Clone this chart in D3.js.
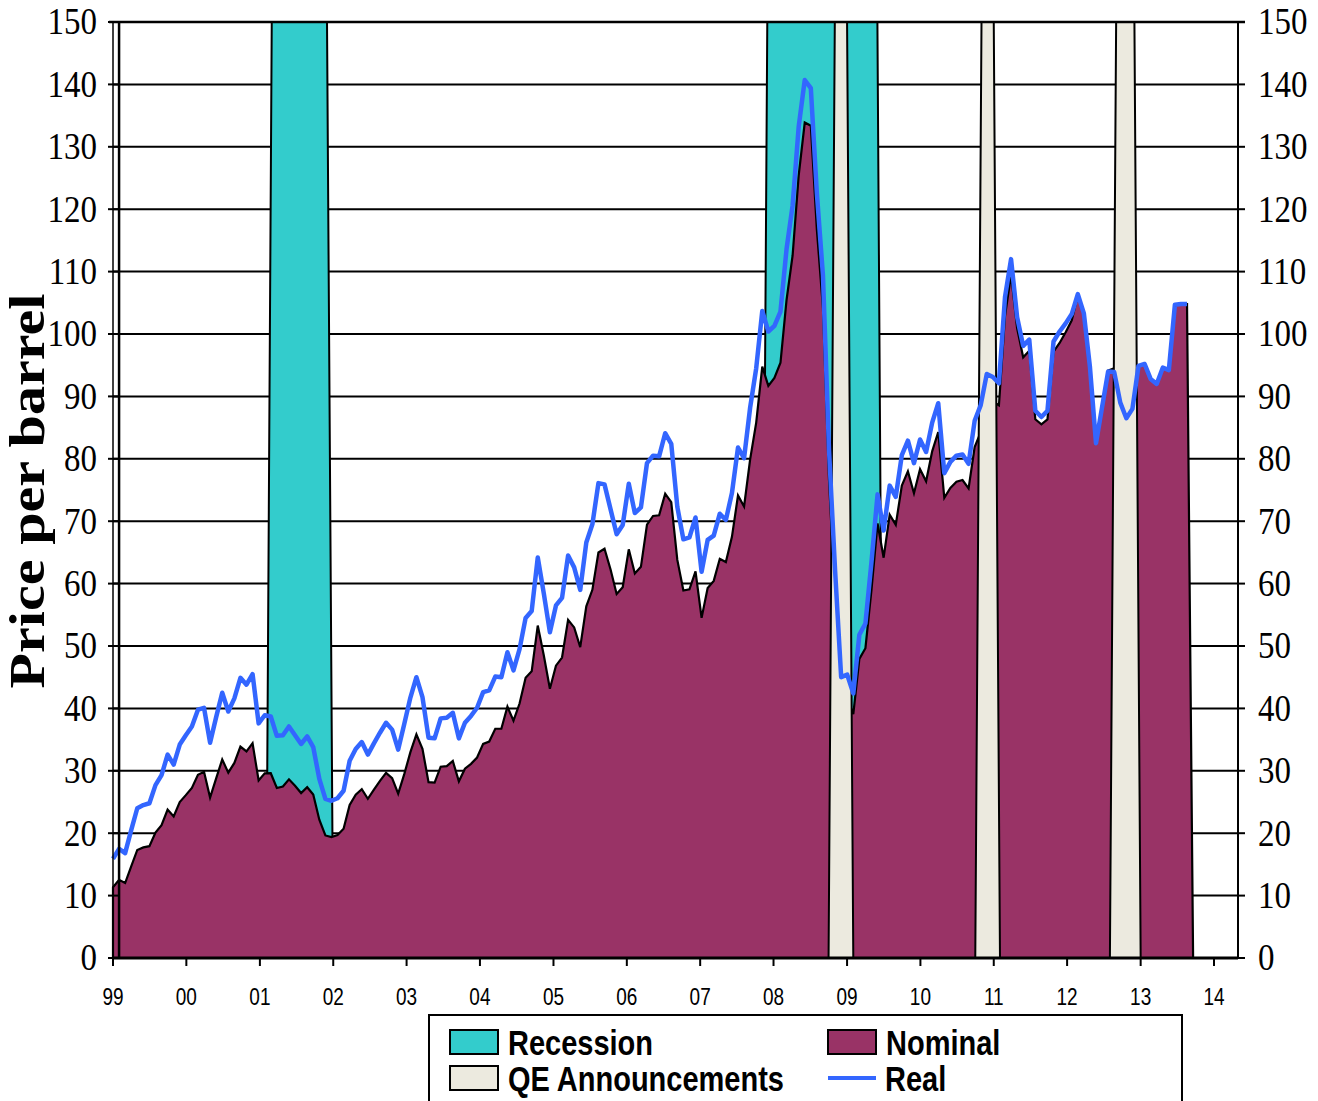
<!DOCTYPE html>
<html>
<head>
<meta charset="utf-8">
<script src="https://cdn.jsdelivr.net/npm/d3@7"></script>
<style>
  html, body { margin: 0; padding: 0; background: #fff; }
  svg { display: block; }
</style>
</head>
<body>
<svg id="chart" width="1318" height="1101"></svg>
<script>
// Monthly average crude oil price, $ per barrel, Dec 1998 onward.
// The final month has no reading yet and is carried as zero by the area.
const nominal = [
  11.35,
  12.52, 12.01, 14.68, 17.31, 17.72, 17.92, 20.10, 21.28, 23.80, 22.69, 25.00, 26.10,
  27.26, 29.37, 29.84, 25.72, 28.79, 31.82, 29.70, 31.26, 33.88, 33.11, 34.42, 28.44,
  29.59, 29.61, 27.25, 27.49, 28.63, 27.60, 26.43, 27.37, 26.20, 22.17, 19.64, 19.39,
  19.72, 20.72, 24.53, 26.18, 27.04, 25.52, 26.97, 28.39, 29.66, 28.84, 26.35, 29.46,
  32.95, 35.83, 33.51, 28.17, 28.11, 30.66, 30.75, 31.57, 28.31, 30.34, 31.11, 32.13,
  34.31, 34.69, 36.74, 36.75, 40.28, 38.03, 40.78, 44.90, 45.94, 53.28, 48.47, 43.15,
  46.84, 48.15, 54.19, 52.98, 49.83, 56.35, 59.00, 64.99, 65.59, 62.26, 58.32, 59.41,
  65.49, 61.63, 62.69, 69.44, 70.84, 70.95, 74.41, 73.04, 63.80, 58.89, 59.08, 61.96,
  54.51, 59.28, 60.44, 63.98, 63.46, 67.49, 74.12, 72.36, 79.92, 85.80, 94.77, 91.69,
  92.97, 95.39, 105.45, 112.58, 125.40, 133.88, 133.37, 116.67, 104.11, 76.61, 57.31, 41.12,
  41.71, 39.09, 47.94, 49.65, 59.03, 69.64, 64.15, 71.05, 69.41, 75.72, 77.99, 74.47,
  78.33, 76.39, 81.20, 84.29, 73.74, 75.34, 76.32, 76.60, 75.24, 81.89, 84.25, 89.15,
  89.17, 88.58, 102.86, 109.53, 100.90, 96.26, 97.30, 86.33, 85.52, 86.32, 97.16, 98.56,
  100.27, 102.20, 106.16, 103.32, 94.66, 82.30, 87.90, 94.13, 94.51, 89.49, 86.53, 87.86,
  94.76, 95.31, 92.94, 92.02, 94.51, 94.50, 104.6, 104.8, 104.8, 0
];

// Same series in constant dollars.
const real = [
  15.9,
  17.5, 16.8, 20.5, 24.0, 24.5, 24.8, 27.7, 29.3, 32.6, 31.0, 34.2, 35.7,
  37.1, 39.8, 40.1, 34.5, 38.6, 42.5, 39.5, 41.6, 44.9, 43.8, 45.5, 37.6,
  38.9, 38.7, 35.6, 35.7, 37.1, 35.7, 34.3, 35.5, 33.8, 28.7, 25.5, 25.2,
  25.6, 26.8, 31.6, 33.5, 34.6, 32.6, 34.4, 36.1, 37.7, 36.6, 33.4, 37.5,
  41.7, 45.0, 41.8, 35.3, 35.2, 38.4, 38.5, 39.3, 35.2, 37.7, 38.8, 40.1,
  42.6, 42.9, 45.1, 45.0, 49.0, 46.1, 49.5, 54.5, 55.6, 64.2, 58.4, 52.2,
  56.5, 57.7, 64.5, 62.6, 59.0, 66.6, 69.5, 76.1, 75.9, 71.9, 67.9, 69.4,
  76.0, 71.3, 72.2, 79.3, 80.5, 80.4, 84.1, 82.4, 72.3, 67.1, 67.4, 70.6,
  61.9, 67.0, 67.7, 71.2, 70.2, 74.5, 81.8, 80.1, 88.2, 94.5, 103.7, 100.4,
  101.3, 103.6, 113.6, 120.6, 133.2, 140.7, 139.4, 122.5, 109.4, 81.4, 62.1, 45.0,
  45.4, 42.4, 51.8, 53.6, 63.5, 74.3, 68.5, 75.7, 73.9, 80.6, 82.9, 79.3,
  83.1, 81.1, 85.8, 88.9, 77.7, 79.5, 80.5, 80.7, 79.2, 86.1, 88.6, 93.6,
  93.1, 92.1, 105.9, 112.0, 102.7, 98.1, 99.1, 87.7, 86.7, 87.7, 98.8, 100.4,
  101.7, 103.2, 106.4, 103.3, 94.7, 82.5, 88.3, 94.0, 93.9, 89.0, 86.5, 88.0,
  94.9, 95.2, 92.8, 92.0, 94.6, 94.2, 104.7, 104.8, 104.8
];

// Shaded periods, first and last month inclusive.
const recessions = [["2001-03", "2001-12"], ["2007-12", "2009-06"]];
const qeAnnouncements = [["2008-11", "2009-01"], ["2010-11", "2011-01"], ["2012-09", "2012-12"]];

const yearLabels = ["99","00","01","02","03","04","05","06","07","08","09","10","11","12","13","14"];
const yTicks = [0, 10, 20, 30, 40, 50, 60, 70, 80, 90, 100, 110, 120, 130, 140, 150];
const yTitle = "Price per barrel";
const legendLabels = ["Recession", "QE Announcements", "Nominal", "Real"];

const colors = {
  recession: "#33CCCC",
  qe: "#ECEADF",
  nominal: "#993366",
  real: "#3366FF"
};

const plot = { left: 113, right: 1238, top: 22, bottom: 958 };
const svg = d3.select("#chart");
const stretch = 1.14;

svg.append("rect").attr("width", 1318).attr("height", 1101).attr("fill", "#fff");

const y = d3.scaleLinear().domain([0, 150]).range([plot.bottom, plot.top]);
const xTime = d3.scaleTime()
  .domain([new Date(1999, 0, 1), new Date(2014, 0, 1)])
  .range([113, 1214]);
// price points sit on their own category positions
const xIdx = d3.scaleLinear().domain([0, 178]).range([113, 1193.1]);

const parseMonth = d3.timeParse("%Y-%m");
function bandPoints([s, e]) {
  const start = parseMonth(s), end = parseMonth(e);
  return [
    [d3.timeMonth.offset(start, -1), 0],
    [start, 150],
    [end, 150],
    [d3.timeMonth.offset(end, 1), 0]
  ];
}

// horizontal grid
svg.append("g").selectAll("line")
  .data(yTicks.filter(v => v > 0 && v < 150))
  .join("line")
  .attr("x1", plot.left).attr("x2", plot.right)
  .attr("y1", d => y(d)).attr("y2", d => y(d))
  .attr("stroke", "#000").attr("stroke-width", 2);

const bandArea = d3.area()
  .x(d => xTime(d[0]))
  .y0(y(0))
  .y1(d => y(d[1]));

// recession bands
svg.append("g").selectAll("path")
  .data(recessions.map(bandPoints))
  .join("path")
  .attr("d", bandArea)
  .attr("fill", colors.recession)
  .attr("stroke", "#000").attr("stroke-width", 2)
  .attr("stroke-linejoin", "miter");

// nominal price area
const nominalArea = d3.area()
  .x((d, i) => xIdx(i))
  .y0(y(0))
  .y1(d => y(d));
svg.append("path")
  .datum(nominal)
  .attr("d", nominalArea)
  .attr("fill", colors.nominal)
  .attr("stroke", "#000").attr("stroke-width", 2.2)
  .attr("stroke-linejoin", "miter");

// QE announcement bands
svg.append("g").selectAll("path")
  .data(qeAnnouncements.map(bandPoints))
  .join("path")
  .attr("d", bandArea)
  .attr("fill", colors.qe)
  .attr("stroke", "#000").attr("stroke-width", 2);

// real price line
const realLine = d3.line()
  .x((d, i) => xIdx(i))
  .y(d => y(d));
svg.append("path")
  .datum(real)
  .attr("d", realLine)
  .attr("fill", "none")
  .attr("stroke", colors.real)
  .attr("stroke-width", 4.5)
  .attr("stroke-linejoin", "round");

// frame and axes
const frame = svg.append("g").attr("stroke", "#000");
frame.append("line")
  .attr("x1", plot.left - 4).attr("x2", plot.right + 7)
  .attr("y1", y(150)).attr("y2", y(150)).attr("stroke-width", 2.5);
frame.append("line")
  .attr("x1", plot.left).attr("x2", plot.left)
  .attr("y1", plot.top).attr("y2", plot.bottom).attr("stroke-width", 1.5);
frame.append("line")
  .attr("x1", xIdx(1)).attr("x2", xIdx(1))
  .attr("y1", plot.top).attr("y2", plot.bottom).attr("stroke-width", 2.5);
frame.append("line")
  .attr("x1", plot.right).attr("x2", plot.right)
  .attr("y1", plot.top).attr("y2", plot.bottom).attr("stroke-width", 2);

// y tick marks, both sides
frame.append("g").selectAll("line")
  .data(yTicks)
  .join("line")
  .attr("x1", plot.left - 5).attr("x2", xIdx(1))
  .attr("y1", d => y(d)).attr("y2", d => y(d))
  .attr("stroke-width", 2);
frame.append("g").selectAll("line")
  .data(yTicks)
  .join("line")
  .attr("x1", plot.right).attr("x2", plot.right + 7)
  .attr("y1", d => y(d)).attr("y2", d => y(d))
  .attr("stroke-width", 2);

// x axis
const yearDates = yearLabels.map((l, i) => new Date(1999 + i, 0, 1));
frame.append("g").selectAll("line")
  .data(yearDates)
  .join("line")
  .attr("x1", d => xTime(d)).attr("x2", d => xTime(d))
  .attr("y1", plot.bottom).attr("y2", plot.bottom + 8)
  .attr("stroke-width", 2);
frame.append("line")
  .attr("x1", plot.left).attr("x2", plot.right)
  .attr("y1", plot.bottom).attr("y2", plot.bottom)
  .attr("stroke-width", 3);

// text helper: fonts are drawn slightly tall
function label(parent, x, yPos, text, opts) {
  const g = parent.append("g")
    .attr("transform", `translate(${x},${yPos}) scale(1,${opts.sy || stretch})`);
  const t = g.append("text")
    .attr("x", 0).attr("y", 0)
    .attr("font-family", opts.family)
    .attr("font-size", opts.size)
    .attr("font-weight", opts.weight || "normal")
    .attr("text-anchor", opts.anchor || "start")
    .attr("fill", "#000")
    .text(text);
  if (opts.dy) t.attr("dy", opts.dy);
  return t;
}

const serif = "'Liberation Serif', 'Times New Roman', serif";
const sans = "'Liberation Sans', Arial, sans-serif";

const labels = svg.append("g");
yTicks.forEach(v => {
  label(labels, 97, y(v), String(v), { family: serif, size: 33, anchor: "end", dy: "0.33em" });
  label(labels, 1258, y(v), String(v), { family: serif, size: 33, anchor: "start", dy: "0.33em" });
});
yearLabels.forEach((l, i) => {
  label(labels, xTime(yearDates[i]), 1005, l, { family: sans, size: 19, anchor: "middle", sy: 1.22 });
});

// y title
svg.append("text")
  .attr("transform", "translate(44,491) rotate(-90)")
  .attr("text-anchor", "middle")
  .attr("font-family", serif)
  .attr("font-weight", "bold")
  .attr("font-size", 51)
  .attr("textLength", 395)
  .attr("lengthAdjust", "spacingAndGlyphs")
  .text(yTitle);

// legend
const legend = svg.append("g");
legend.append("rect")
  .attr("x", 429).attr("y", 1015).attr("width", 753).attr("height", 120)
  .attr("fill", "#fff").attr("stroke", "#000").attr("stroke-width", 2);

const swatches = [
  { x: 450, y: 1030, fill: colors.recession, text: legendLabels[0] },
  { x: 450, y: 1066, fill: colors.qe, text: legendLabels[1] },
  { x: 828, y: 1030, fill: colors.nominal, text: legendLabels[2] }
];
swatches.forEach(s => {
  legend.append("rect")
    .attr("x", s.x).attr("y", s.y).attr("width", 48).attr("height", 24)
    .attr("fill", s.fill).attr("stroke", "#000").attr("stroke-width", 2);
  label(legend, s.x + 58, s.y + 25, s.text, { family: sans, size: 29, weight: "bold", sy: 1.2 });
});
legend.append("line")
  .attr("x1", 828).attr("x2", 876).attr("y1", 1078).attr("y2", 1078)
  .attr("stroke", colors.real).attr("stroke-width", 4);
label(legend, 885, 1091, legendLabels[3], { family: sans, size: 29, weight: "bold", sy: 1.2 });
</script>
</body>
</html>
